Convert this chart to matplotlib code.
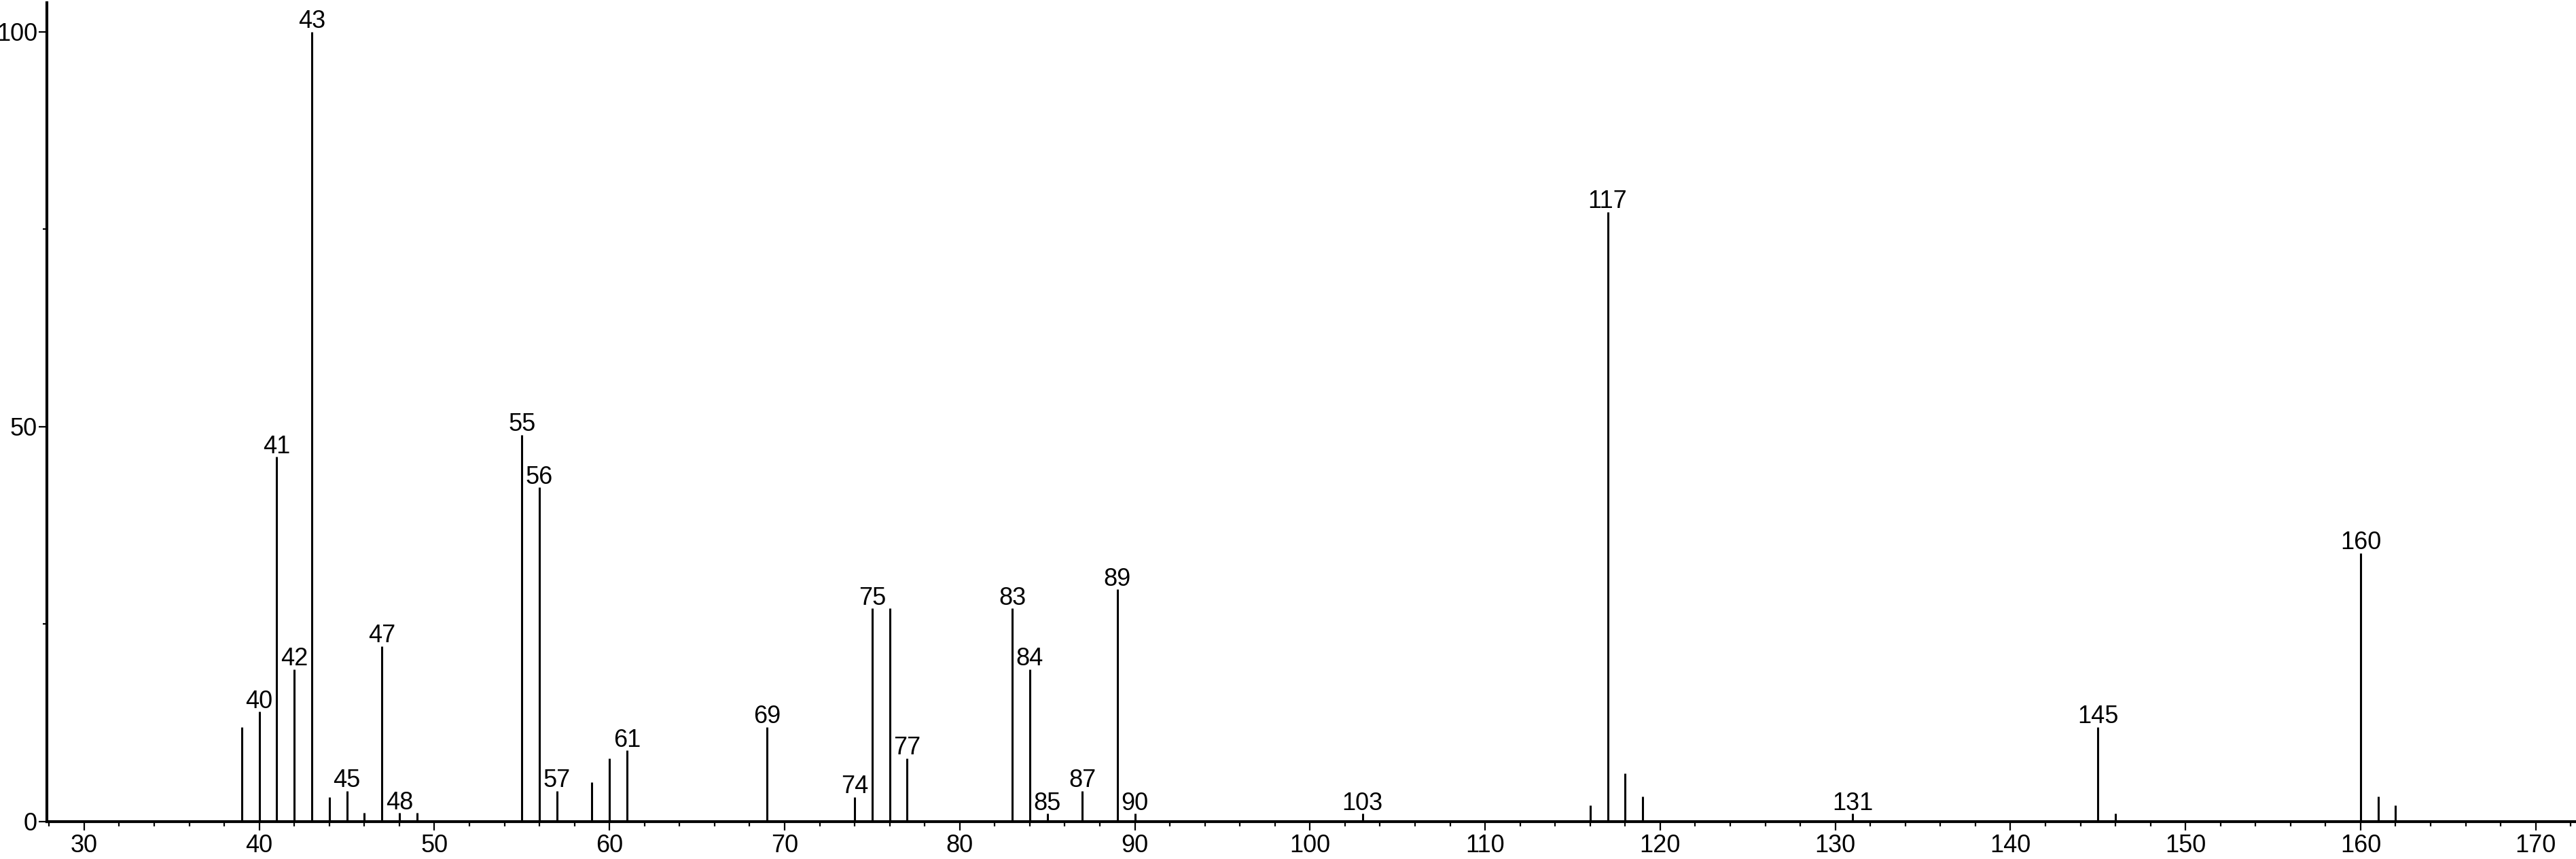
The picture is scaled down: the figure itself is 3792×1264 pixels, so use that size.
import matplotlib
matplotlib.use("Agg")
import matplotlib.pyplot as plt
from matplotlib.ticker import MultipleLocator, FixedLocator

plt.rcParams['font.family'] = ['Liberation Sans', 'DejaVu Sans']

# mass spectrum: m/z and relative intensity
mz = [39, 40, 41, 42, 43, 44, 45, 46, 47, 48, 49,
      55, 56, 57, 59, 60, 61, 69, 74, 75, 76, 77,
      83, 84, 85, 87, 89, 90, 103, 116, 117, 118, 119,
      131, 145, 146, 160, 161, 162]
intensity = [12.0, 13.9, 46.2, 19.3, 100.0, 3.1, 3.9, 1.1, 22.2, 1.1, 1.1,
             49.0, 42.3, 3.9, 5.0, 8.0, 9.0, 12.0, 3.1, 27.0, 27.0, 8.0,
             27.0, 19.3, 1.0, 3.9, 29.4, 1.0, 1.0, 2.05, 77.2, 6.1, 3.15,
             1.0, 12.0, 1.0, 34.0, 3.15, 2.1]

# peaks that carry a label
labeled = [40, 41, 42, 43, 45, 47, 48, 55, 56, 57, 61, 69, 74, 75, 77,
           83, 84, 85, 87, 89, 90, 103, 117, 131, 145, 160]

W, H = 3792, 1264
fig = plt.figure(figsize=(W / 100, H / 100), dpi=100)
ax = fig.add_axes([69 / W, 55 / H, 1 - 69 / W, 1205 / H])

ax.vlines(mz, 0, intensity, color='black', linewidth=2.2)

for m, v in zip(mz, intensity):
    if m in labeled:
        ax.annotate(str(m), (m, v), xytext=(0, 4), textcoords='offset points',
                    ha='center', va='baseline', fontsize=26)

ax.set_xlim(27.87, 172.3)
ax.set_ylim(0, 103.7)

for s in ['top', 'right']:
    ax.spines[s].set_visible(False)
for s in ['left', 'bottom']:
    ax.spines[s].set_linewidth(3)

ax.xaxis.set_major_locator(MultipleLocator(10))
ax.xaxis.set_minor_locator(MultipleLocator(2))
ax.yaxis.set_major_locator(FixedLocator([0, 50, 100]))
ax.yaxis.set_minor_locator(FixedLocator([25, 75]))

ax.tick_params(axis='x', which='major', direction='out', length=9, width=1.6,
               labelsize=26, pad=4)
ax.tick_params(axis='x', which='minor', direction='out', length=5, width=1.6)
ax.tick_params(axis='y', which='major', direction='out', length=9, width=1.6,
               labelsize=26, pad=1)
ax.tick_params(axis='y', which='minor', direction='out', length=4.5, width=1.6)

fig.savefig('out.png', dpi=100)
